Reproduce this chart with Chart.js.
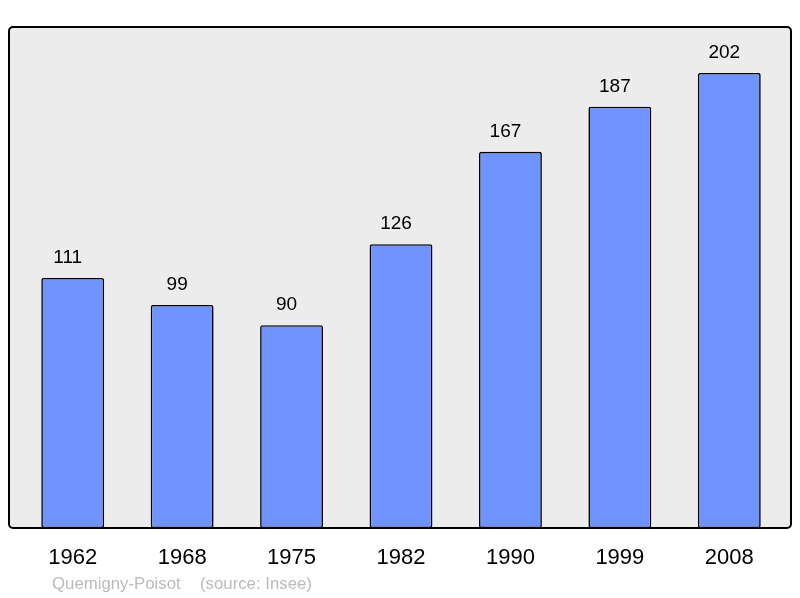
<!DOCTYPE html>
<html>
<head>
<meta charset="utf-8">
<script src="https://cdn.jsdelivr.net/npm/chart.js@4"></script>
<style>
  html, body { margin: 0; padding: 0; background: #fff; }
  #wrap { width: 800px; height: 598px; }
</style>
</head>
<body>
<div id="wrap"><canvas id="myChart" width="800" height="598"></canvas></div>
<script>
// données
var annees = ["1962", "1968", "1975", "1982", "1990", "1999", "2008"];
var population = [111, 99, 90, 126, 167, 187, 202];
var yMax = 222.4;
var commune = "Quemigny-Poisot";
var source = "(source: Insee)";

// fond gris + cadre noir autour de la zone du graphique
var cadre = {
  id: "cadre",
  beforeDatasetsDraw: function (chart) {
    var c = chart.ctx, a = chart.chartArea;
    c.save();
    c.beginPath();
    c.roundRect(a.left - 9, a.top, a.right - a.left + 16, a.bottom - a.top, 4);
    c.fillStyle = "#ececec";
    c.fill();
    c.restore();
  },
  afterDatasetsDraw: function (chart) {
    var c = chart.ctx, a = chart.chartArea;
    c.save();
    c.beginPath();
    c.roundRect(a.left - 9, a.top, a.right - a.left + 16, a.bottom - a.top, 4);
    c.lineWidth = 2;
    c.strokeStyle = "#000";
    c.stroke();

    // valeurs au-dessus des barres
    c.font = "19px 'Liberation Sans', Arial, sans-serif";
    c.fillStyle = "#000";
    c.textAlign = "center";
    c.textBaseline = "alphabetic";
    chart.getDatasetMeta(0).data.forEach(function (bar, i) {
      c.fillText(String(population[i]), bar.x - 5, bar.y - 15);
    });

    // pied de page
    c.font = "16.8px 'Liberation Sans', Arial, sans-serif";
    c.fillStyle = "#bbbbbb";
    c.textAlign = "left";
    c.fillText(commune, a.left + 34, 589);
    c.fillText(source, a.left + 182, 589);
    c.restore();
  }
};

var ctx = document.getElementById("myChart").getContext("2d");
var chart = new Chart(ctx, {
  type: "bar",
  data: {
    labels: annees,
    datasets: [
      {
        data: population,
        backgroundColor: "#7094ff",
        borderColor: "#000",
        borderWidth: 1.6,
        borderRadius: 2,
        borderSkipped: false,
        barPercentage: 0.575,
        categoryPercentage: 1.0
      }
    ]
  },
  options: {
    responsive: false,
    animation: false,
    layout: { padding: { top: 27, left: 18, right: 16, bottom: 0 } },
    plugins: { legend: { display: false }, tooltip: { enabled: false } },
    scales: {
      x: {
        grid: { display: false },
        border: { display: false },
        ticks: {
          color: "#000",
          padding: 9,
          font: { size: 22, family: "'Liberation Sans', Arial, sans-serif" }
        },
        afterFit: function (scale) { scale.height = 70; }
      },
      y: {
        display: false,
        min: 0,
        max: yMax
      }
    }
  },
  plugins: [cadre]
});
</script>
</body>
</html>
